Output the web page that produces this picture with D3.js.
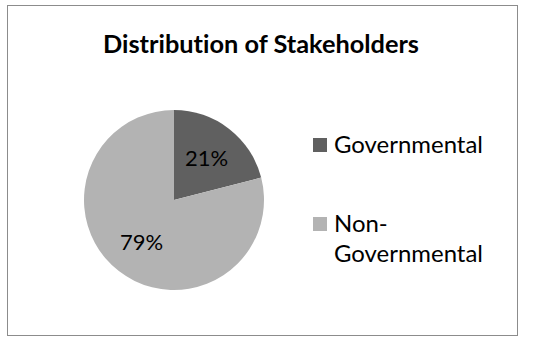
<!DOCTYPE html>
<html lang="en">
<head>
  <meta charset="utf-8">
  <title>Distribution of Stakeholders</title>
  <script src="https://d3js.org/d3.v7.min.js"></script>
  <style>
    body { margin: 0; background: #fff; }
    text { font-family: Lato, "Open Sans", sans-serif; fill: #000; font-variant-ligatures: none; }
    #chartTitle { font-weight: bold; text-anchor: middle; }
    .pieLabel { text-anchor: middle; }
  </style>
</head>
<body>
  <script>
    // data
    const categories = ["Governmental", "Non-Governmental"];
    const shares = [21, 79];
    const legendLines = [["Governmental"], ["Non-", "Governmental"]];
    const colors = ["#606060", "#b3b3b3"];

    const width = 550, height = 345;
    const center = { x: 174, y: 200 };
    const radius = 90;

    const svg = d3.select("body").append("svg")
      .attr("width", width).attr("height", height);

    // chart border
    svg.append("rect")
      .attr("x", 7.5).attr("y", 5.5)
      .attr("width", 510).attr("height", 330)
      .attr("fill", "#fff")
      .attr("stroke", "#8c8c8c").attr("stroke-width", 1);

    // shrink/grow a text so it fills the width
    function fitText(sel, targetWidth) {
      const node = sel.node();
      const fs = parseFloat(sel.attr("font-size"));
      const w = node.getComputedTextLength();
      sel.attr("font-size", (fs * targetWidth / w).toFixed(2));
    }

    const title = svg.append("text").attr("id", "chartTitle")
      .attr("x", 261).attr("y", 53)
      .attr("font-size", 22)
      .text("Distribution of Stakeholders");
    fitText(title, 316);

    // pie
    const pie = d3.pie().sort(null).value(d => d);
    const arc = d3.arc().innerRadius(0).outerRadius(radius);
    const labelArc = d3.arc().innerRadius(53).outerRadius(53);
    const color = d3.scaleOrdinal().domain(categories).range(colors);

    const pieGroup = svg.append("g")
      .attr("transform", `translate(${center.x},${center.y})`);

    const arcs = pie(shares);
    pieGroup.selectAll("path").data(arcs).join("path")
      .attr("d", arc)
      .attr("fill", (d, i) => color(categories[i]));

    pieGroup.selectAll("text.pieLabel").data(arcs).join("text")
      .attr("class", "pieLabel")
      .attr("x", d => labelArc.centroid(d)[0])
      .attr("y", d => labelArc.centroid(d)[1])
      .attr("dy", "0.35em")
      .attr("font-size", 22)
      .text(d => d.data + "%");

    // legend
    const legendY = [153, 232];
    const legend = svg.append("g");
    categories.forEach((c, i) => {
      legend.append("rect")
        .attr("x", 313).attr("y", legendY[i] - 15)
        .attr("width", 14).attr("height", 14)
        .attr("fill", color(c));
      legendLines[i].forEach((line, j) => {
        const t = legend.append("text")
          .attr("x", 334).attr("y", legendY[i] + j * 30)
          .attr("font-size", 20)
          .text(line);
        if (line === "Governmental") fitText(t, 149);
      });
    });
    // keep "Non-" in the same size as the other legend lines
    const legendSize = legend.select("text").attr("font-size");
    legend.selectAll("text").attr("font-size", legendSize);
  </script>
</body>
</html>
